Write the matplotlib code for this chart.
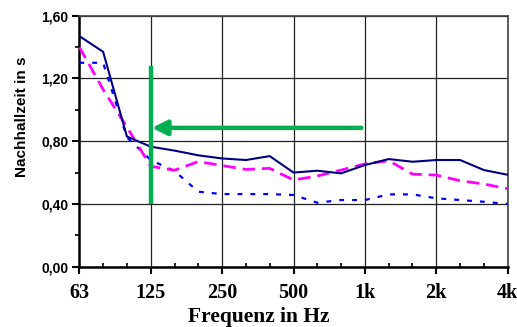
import matplotlib
matplotlib.use("Agg")
import matplotlib.pyplot as plt
import numpy as np

freqs = ["63", "80", "100", "125", "160", "200", "250", "315", "400", "500",
         "630", "800", "1k", "1.25k", "1.6k", "2k", "2.5k", "3.15k", "4k"]
solid_navy = [1.47, 1.37, 0.83, 0.765, 0.74, 0.71, 0.69, 0.68, 0.705, 0.60,
              0.612, 0.595, 0.648, 0.686, 0.669, 0.68, 0.68, 0.616, 0.586]
dashed_magenta = [1.40, 1.13, 0.89, 0.64, 0.615, 0.67, 0.645, 0.62, 0.627, 0.553,
                  0.578, 0.616, 0.655, 0.676, 0.59, 0.584, 0.548, 0.527, 0.497]
dotted_blue = [1.30, 1.30, 0.825, 0.68, 0.61, 0.478, 0.463, 0.463, 0.463, 0.457,
               0.408, 0.425, 0.425, 0.461, 0.461, 0.436, 0.425, 0.414, 0.40]
major_labels = ["63", "125", "250", "500", "1k", "2k", "4k"]
arrow_y = 0.885
vline_range = (0.40, 1.28)

fig = plt.figure(figsize=(5.17, 3.27), dpi=100)
ax = fig.add_axes([0.1534, 0.1844, 0.982 - 0.1534, 0.952 - 0.1844])

x = np.arange(len(freqs))
ax.plot(x, dotted_blue, color="#0000FF", lw=1.6, linestyle=(0, (2.2, 3.6)), zorder=3)
ax.plot(x, dashed_magenta, color="#FF00FF", lw=2.0, linestyle=(0, (4.5, 2.5)), zorder=4)
ax.plot(x, solid_navy, color="#000080", lw=1.5, zorder=5)

# green marker
i125 = freqs.index("125")
i1k = freqs.index("1k")
ax.plot([i125, i125], vline_range, color="#00B050", lw=3.2, solid_capstyle="butt", zorder=6)
ax.annotate("", xy=(i125 + 0.05, arrow_y), xytext=(i1k - 0.15, arrow_y),
            arrowprops=dict(arrowstyle="-|>,head_length=0.9,head_width=0.45",
                            color="#00B050", lw=3.2, shrinkA=0, shrinkB=0),
            zorder=6)

ax.set_xlim(0, len(freqs) - 1)
ax.set_ylim(0, 1.6)
major_pos = [freqs.index(l) for l in major_labels]
ax.set_xticks(major_pos)
ax.set_xticklabels(major_labels, fontfamily="Liberation Serif", fontweight="bold", fontsize=14.5)
ax.set_xticks(x, minor=True)
ax.set_yticks(np.arange(0, 1.61, 0.4))
ax.set_yticklabels([f"{v:.2f}".replace(".", ",") for v in np.arange(0, 1.61, 0.4)],
                   fontfamily="Liberation Sans", fontweight="bold", fontsize=10)
ax.set_yticks(np.arange(0, 1.61, 0.2), minor=True)

ax.grid(True, which="major", color="#222222", lw=0.9, zorder=1)
ax.set_axisbelow(True)
ax.tick_params(axis="x", which="major", direction="out", length=5, width=1.5, pad=7)
ax.tick_params(axis="x", which="minor", direction="in", length=3, width=1.2)
ax.tick_params(axis="y", which="major", direction="out", length=5, width=1.5, pad=3)
ax.tick_params(axis="y", which="minor", direction="out", length=3, width=1.2)

for s in ["left", "bottom"]:
    ax.spines[s].set_color("black")
    ax.spines[s].set_linewidth(1.8)
for s in ["top", "right"]:
    ax.spines[s].set_color("#444444")
    ax.spines[s].set_linewidth(1.2)

ax.set_xlabel("Frequenz in Hz", fontfamily="Liberation Serif", fontweight="bold", fontsize=15.5)
ax.xaxis.set_label_coords(0.418, -0.16)
ax.set_ylabel("Nachhallzeit in s", fontfamily="Liberation Sans", fontweight="bold", fontsize=11)
ax.yaxis.set_label_coords(-0.117, 0.596)

fig.savefig("out.png", dpi=100)
